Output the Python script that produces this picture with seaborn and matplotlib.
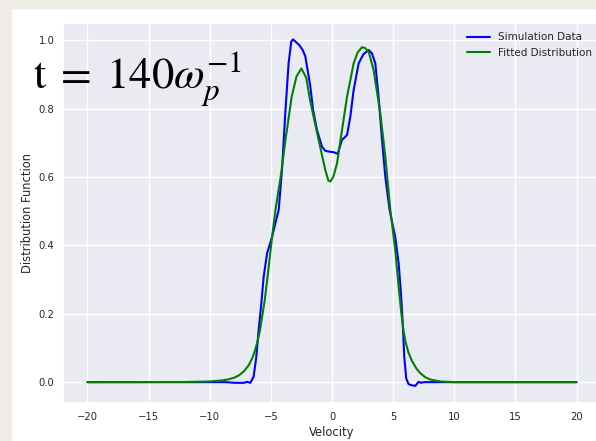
import numpy as np
import pandas as pd
import seaborn as sns
import matplotlib
matplotlib.use("Agg")
import matplotlib.pyplot as plt
from matplotlib.patches import Rectangle

# Simulation data
sim_v = [-20.0, -10.0, -8.7, -7.9, -7.2, -6.95, -6.68, -6.41, -6.19, -6.0,
         -5.78, -5.59, -5.31, -4.9, -4.63, -4.36, -4.09, -3.82, -3.55, -3.33,
         -3.19, -3.0, -2.67, -2.4, -2.18, -1.77, -1.55, -1.23, -0.82, -0.55,
         -0.14, 0.14, 0.46, 0.82, 1.23, 1.5, 1.77, 2.18, 2.58, 3.0,
         3.27, 3.54, 3.81, 4.09, 4.36, 4.71, 5.17, 5.45, 5.64, 5.8,
         5.91, 6.07, 6.25, 6.4, 6.81, 7.08, 7.3, 7.49, 8.0, 10.0, 20.0]
sim_f = [0.0, 0.0, 0.0, -0.002, -0.002, 0.001, -0.002, 0.016, 0.074, 0.152,
         0.23, 0.308, 0.377, 0.425, 0.465, 0.504, 0.621, 0.787, 0.933, 0.997,
         1.003, 0.997, 0.986, 0.972, 0.953, 0.865, 0.797, 0.738, 0.689, 0.677,
         0.674, 0.673, 0.668, 0.709, 0.723, 0.777, 0.855, 0.933, 0.96, 0.972,
         0.962, 0.933, 0.835, 0.709, 0.601, 0.504, 0.425, 0.348, 0.26, 0.162,
         0.074, 0.011, -0.005, -0.008, -0.011, 0.001, -0.002, 0.0, 0.0, 0.0, 0.0]

# Fitted distribution
fit_v = [-20.0, -12.0, -10.0, -9.0, -8.5, -8.0, -7.6, -7.2, -6.8, -6.5,
         -6.3, -6.1, -5.9, -5.5, -5.2, -4.9, -4.6, -4.2, -3.8, -3.3,
         -2.9, -2.5, -2.1, -1.8, -1.1, -0.55, -0.3, -0.14, 0.1, 0.41,
         0.82, 1.23, 1.77, 2.1, 2.45, 2.7, 3.0, 3.4, 3.95, 4.36,
         4.77, 5.17, 5.45, 5.66, 5.85, 6.0, 6.25, 6.54, 6.9, 7.2,
         7.6, 8.0, 8.85, 10.0, 20.0]
fit_f = [0.0, 0.0005, 0.002, 0.005, 0.008, 0.013, 0.02, 0.032, 0.05, 0.072,
         0.092, 0.118, 0.15, 0.24, 0.33, 0.425, 0.51, 0.60, 0.71, 0.835,
         0.895, 0.918, 0.89, 0.826, 0.71, 0.621, 0.59, 0.587, 0.6, 0.64,
         0.738, 0.835, 0.933, 0.965, 0.98, 0.978, 0.967, 0.914, 0.787, 0.66,
         0.504, 0.387, 0.28, 0.205, 0.15, 0.12, 0.087, 0.062, 0.04, 0.027,
         0.015, 0.008, 0.002, 0.0, 0.0]

sns.set_theme(style="darkgrid")
plt.rcParams['mathtext.fontset'] = 'stix'

fig = plt.figure(figsize=(5.96, 4.41), dpi=100)
fig.patch.set_facecolor("white")

# axes placed in pixels: left 63, right ~601 (just past the image edge), top 23, bottom 403
W, H = 596.0, 441.0
ax = fig.add_axes([63 / W, (H - 403) / H, 538 / W, 380 / H])

sns.lineplot(x=sim_v, y=sim_f, ax=ax, color="blue", lw=1.5, label="Simulation Data")
sns.lineplot(x=fit_v, y=fit_f, ax=ax, color="green", lw=1.5, label="Fitted Distribution")

ax.set_xlim(-22, 22)
ax.set_ylim(-0.061, 1.051)
ax.set_xticks([-20, -15, -10, -5, 0, 5, 10, 15, 20])
ax.set_yticks([0.0, 0.2, 0.4, 0.6, 0.8, 1.0])
ax.tick_params(axis="both", labelsize=7.2, pad=0.3)
ax.set_xlabel("Velocity", fontsize=8.3, labelpad=3)
ax.set_ylabel("Distribution Function", fontsize=8.3, labelpad=3.5)

ax.legend(loc="upper right", frameon=False, fontsize=7.5,
          handlelength=2.2, handletextpad=0.7)

fig.text(33 / W, 1 - 88 / H, r"$\mathrm{t}\;=\;140\omega_p^{-1}$",
         fontsize=32, va="baseline", ha="left", color="black")

# beige screenshot border on the left and top
beige = "#efece5"
fig.patches.append(Rectangle((0, 0), 11 / W, 1, transform=fig.transFigure,
                             color=beige, zorder=-1))
fig.patches.append(Rectangle((0, 1 - 8 / H), 1, 8 / H, transform=fig.transFigure,
                             color=beige, zorder=-1))

fig.savefig("out.png", dpi=100)
